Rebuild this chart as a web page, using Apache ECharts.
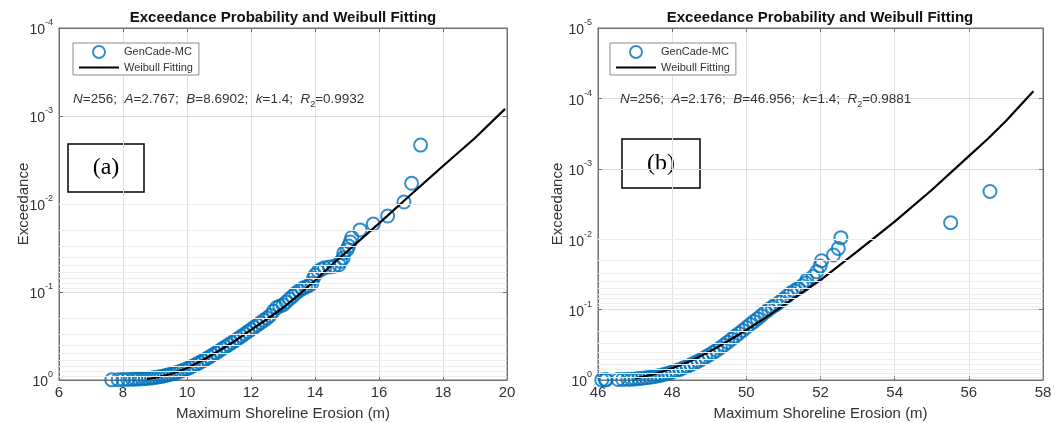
<!DOCTYPE html>
<html><head><meta charset="utf-8">
<script src="https://cdn.jsdelivr.net/npm/echarts@6/dist/echarts.min.js"></script>
<style>html,body{margin:0;padding:0;background:#fff}#c{width:1055px;height:423px}</style>
</head><body><div id="c"></div>
<script>
// ---------- data ----------
const xTicksA = [6, 8, 10, 12, 14, 16, 18, 20];
const xTicksB = [46, 48, 50, 52, 54, 56, 58];
const yMinA = 1e-4, yMinB = 1e-5;

// panel (a) observed exceedance
const obsXA = [7.65,7.85,8.0,8.15,8.3,8.4,8.5,8.6,8.7,8.8,8.9,9.0,9.1,9.2,9.3,9.4,9.5,9.6,9.7,9.8,9.9,10.0,10.1,10.2,10.3,10.4,10.5,10.6,10.7,10.8,10.9,11.0,11.1,11.2,11.3,11.4,11.5,11.6,11.7,11.8,11.9,12.0,12.1,12.2,12.3,12.4,12.5,12.6,12.7,12.8,12.9,13.0,13.1,13.2,13.3,13.4,13.5,13.6,13.7,13.8,13.9,13.95,14.0,14.1,14.2,14.3,14.45,14.6,14.75,14.8,14.88,14.9,15.0,15.05,15.1,15.15,15.41,15.82,16.27,16.78,17.02,17.30];
const obsPA = [0.996,0.992,0.988,0.984,0.980,0.977,0.973,0.969,0.963,0.955,0.946,0.936,0.924,0.911,0.896,0.879,0.86,0.84,0.818,0.795,0.77,0.745,0.718,0.69,0.66,0.632,0.603,0.575,0.547,0.52,0.493,0.467,0.442,0.42,0.398,0.377,0.357,0.337,0.318,0.30,0.283,0.267,0.252,0.237,0.223,0.21,0.198,0.185,0.165,0.15,0.145,0.14,0.13,0.12,0.112,0.103,0.097,0.092,0.088,0.085,0.08,0.07,0.064,0.058,0.055,0.053,0.052,0.051,0.049,0.045,0.041,0.036,0.033,0.030,0.027,0.024,0.0197,0.0169,0.0137,0.0095,0.00582,0.00214];
// panel (a) Weibull fitting
const fitXA = [8.75,9.0,9.5,10,10.5,11,11.5,12,12.5,13,13.5,14,14.5,15,16,17,18,19,19.94];
const fitPA = [0.975,0.942,0.855,0.736,0.593,0.465,0.36,0.27,0.204,0.151,0.107,0.074,0.050,0.0347,0.0166,0.0078,0.0037,0.00178,0.00083];

// panel (b) observed exceedance
const obsXB = [46.1,46.2,46.22,46.54,46.67,46.8,46.9,47.0,47.1,47.2,47.3,47.4,47.5,47.6,47.7,47.8,47.9,48.0,48.1,48.2,48.3,48.4,48.5,48.6,48.7,48.8,48.9,49.0,49.1,49.2,49.3,49.4,49.5,49.6,49.7,49.8,49.9,50.0,50.1,50.2,50.3,50.4,50.5,50.6,50.7,50.8,50.9,51.0,51.1,51.2,51.3,51.4,51.5,51.6,51.63,51.8,51.9,51.99,52.03,52.35,52.48,52.55,55.51,56.57];
const obsPB = [0.996,0.992,0.988,0.984,0.980,0.977,0.972,0.965,0.955,0.944,0.93,0.914,0.896,0.876,0.853,0.828,0.80,0.77,0.74,0.708,0.675,0.642,0.608,0.575,0.54,0.506,0.473,0.44,0.408,0.377,0.347,0.318,0.29,0.264,0.24,0.218,0.198,0.18,0.163,0.148,0.135,0.122,0.11,0.10,0.092,0.085,0.078,0.071,0.064,0.058,0.054,0.05,0.046,0.042,0.038,0.034,0.029,0.024,0.0202,0.0168,0.0135,0.0095,0.00582,0.0021];
// panel (b) Weibull fitting
const fitXB = [47.0,47.5,48,48.5,49,49.5,50,50.5,51,51.5,52,53,54,55,56,56.5,57,57.74];
const fitPB = [0.946,0.832,0.682,0.537,0.398,0.282,0.195,0.132,0.087,0.0575,0.038,0.0148,0.00562,0.0020,0.00066,0.00038,0.000209,0.000079];

const titleText = 'Exceedance Probability and Weibull Fitting';
const xName = 'Maximum Shoreline Erosion (m)';
const yName = 'Exceedance';
const seriesNames = ['GenCade-MC', 'Weibull Fitting'];
const statA = '{i|N}=256;  {i|A}=2.767;  {i|B}=8.6902;  {i|k}=1.4;  {i|R}{s|2}=0.9932';
const statB = '{i|N}=256;  {i|A}=2.176;  {i|B}=46.956;  {i|k}=1.4;  {i|R}{s|2}=0.9881';

// ---------- chart ----------
const FONT = '"Liberation Sans", Arial, sans-serif';
const AX = '#707070', TXT = '#333';
const BLUE = '#0072BD';
const zip = (xs, ys) => xs.map((x, i) => [x, ys[i]]);

function minorValues(minV) {
  const out = [];
  for (let d = Math.round(Math.log10(minV)); d < 0; d++) {
    for (let m = 2; m <= 9; m++) out.push(m * Math.pow(10, d));
  }
  return out;
}

const grids = [
  {left: 59, top: 28, width: 448, height: 352, show: true, borderColor: AX, borderWidth: 1, backgroundColor: '#fff', containLabel: false, outerBoundsMode: 'none'},
  {left: 598, top: 28, width: 445, height: 352, show: true, borderColor: AX, borderWidth: 1, backgroundColor: '#fff', containLabel: false, outerBoundsMode: 'none'}
];

function xAxisMain(gi, ticks) {
  return {
    type: 'value', gridIndex: gi, position: 'bottom',
    min: ticks[0], max: ticks[ticks.length - 1], interval: 2,
    name: xName, nameLocation: 'middle', nameGap: 26, nameMoveOverlap: false,
    nameTextStyle: {fontFamily: FONT, fontSize: 15, color: TXT},
    axisLine: {show: true, onZero: false, lineStyle: {color: AX}},
    axisTick: {show: true, inside: true, length: 4, lineStyle: {color: AX}},
    axisLabel: {fontFamily: FONT, fontSize: 15, color: TXT, margin: 5},
    splitLine: {show: true, lineStyle: {color: '#e0e0e0', width: 1}}
  };
}
function xAxisTop(gi, ticks) {
  return {
    type: 'value', gridIndex: gi, position: 'top',
    min: ticks[0], max: ticks[ticks.length - 1], interval: 2,
    axisLine: {show: true, onZero: false, lineStyle: {color: AX}},
    axisTick: {show: true, inside: true, length: 4, lineStyle: {color: AX}},
    axisLabel: {show: false}, splitLine: {show: false}
  };
}
function yAxisMain(gi, minV, gap) {
  return {
    type: 'log', logBase: 10, gridIndex: gi, position: 'left',
    min: minV, max: 1, inverse: true,
    name: yName, nameLocation: 'middle', nameGap: gap, nameMoveOverlap: false,
    nameTextStyle: {fontFamily: FONT, fontSize: 15, color: TXT},
    axisLine: {show: true, onZero: false, lineStyle: {color: AX}},
    axisTick: {show: true, inside: true, length: 4, lineStyle: {color: AX}},
    axisLabel: {
      margin: 6,
      formatter: v => '{b|10}{s|' + Math.round(Math.log10(v)) + '}',
      rich: {
        b: {fontFamily: FONT, fontSize: 14, color: TXT, lineHeight: 19, verticalAlign: 'bottom'},
        s: {fontFamily: FONT, fontSize: 9, color: TXT, lineHeight: 19, verticalAlign: 'top'}
      }
    },
    splitLine: {show: true, lineStyle: {color: '#dcdcdc', width: 1}}
  };
}
function yAxisRight(gi, minV) {
  return {
    type: 'log', logBase: 10, gridIndex: gi, position: 'right',
    min: minV, max: 1, inverse: true,
    axisLine: {show: true, onZero: false, lineStyle: {color: AX}},
    axisTick: {show: true, inside: true, length: 4, lineStyle: {color: AX}},
    axisLabel: {show: false}, splitLine: {show: false}
  };
}

function panelSeries(xi, yi, obsX, obsP, fitX, fitP, minV) {
  return [
    {
      type: 'line', xAxisIndex: xi, yAxisIndex: yi, data: [], silent: true, z: 1,
      markLine: {
        silent: true, symbol: ['none', 'none'], label: {show: false}, animation: false,
        lineStyle: {color: '#ededed', width: 1, type: 'solid'},
        emphasis: {disabled: true},
        data: minorValues(minV).map(v => ({yAxis: v}))
      }
    },
    {
      type: 'scatter', name: seriesNames[0], xAxisIndex: xi, yAxisIndex: yi, z: 3,
      symbol: 'circle', symbolSize: 13,
      itemStyle: {color: 'rgba(255,255,255,0)', borderColor: BLUE, borderWidth: 2},
      data: zip(obsX, obsP)
    },
    {
      type: 'line', name: seriesNames[1], xAxisIndex: xi, yAxisIndex: yi, z: 4,
      symbol: 'none', showSymbol: false, smooth: false,
      lineStyle: {color: '#000', width: 2.2}, itemStyle: {color: '#000'},
      data: zip(fitX, fitP)
    }
  ];
}

function legendCfg(left) {
  return {
    show: true, orient: 'vertical', left: left, top: 43,
    data: [
      {name: seriesNames[0], itemStyle: {color: 'rgba(255,255,255,0)', borderColor: BLUE, borderWidth: 2}},
      {name: seriesNames[1], itemStyle: {opacity: 0, color: 'rgba(0,0,0,0)', borderWidth: 0}}
    ],
    itemWidth: 40, itemHeight: 12, itemGap: 3,
    padding: [2, 6, 2, 5],
    borderColor: '#8a8a8a', borderWidth: 1, backgroundColor: '#fff',
    textStyle: {fontFamily: FONT, fontSize: 11, color: TXT},
    selectedMode: false
  };
}

function statText(x, txt) {
  return {
    type: 'text', x: x, y: 99, z: 50,
    style: {
      text: txt, textVerticalAlign: 'middle', fill: TXT,
      font: '13.5px ' + FONT,
      rich: {
        i: {fontFamily: FONT, fontSize: 13.5, fontStyle: 'italic', fill: TXT, lineHeight: 20},
        s: {fontFamily: FONT, fontSize: 9, fill: TXT, lineHeight: 20, verticalAlign: 'bottom'}
      }
    }
  };
}
function tagBox(x, y, w, h, label) {
  return {
    type: 'group', z: 60,
    children: [
      {type: 'rect', shape: {x: x, y: y, width: w, height: h}, style: {fill: '#fff', stroke: '#000', lineWidth: 1.5}},
      {type: 'text', x: x + w / 2, y: y + h / 2, style: {text: label, textAlign: 'center', textVerticalAlign: 'middle', font: '24px "Liberation Serif", "Times New Roman", serif', fill: '#000'}}
    ]
  };
}
function titleText1(x) {
  return {type: 'text', x: x, y: 18, z: 50, style: {text: titleText, textAlign: 'center', textVerticalAlign: 'middle', font: 'bold 15px ' + FONT, fill: '#111'}};
}

const chart = echarts.init(document.getElementById('c'), null, {renderer: 'canvas'});
chart.setOption({
  animation: false,
  backgroundColor: '#fff',
  grid: grids,
  xAxis: [xAxisMain(0, xTicksA), xAxisMain(1, xTicksB), xAxisTop(0, xTicksA), xAxisTop(1, xTicksB)],
  yAxis: [yAxisMain(0, yMinA, 28), yAxisMain(1, yMinB, 33), yAxisRight(0, yMinA), yAxisRight(1, yMinB)],
  legend: [legendCfg(73), legendCfg(610)],
  series: [
    ...panelSeries(0, 0, obsXA, obsPA, fitXA, fitPA, yMinA),
    ...panelSeries(1, 1, obsXB, obsPB, fitXB, fitPB, yMinB)
  ],
  graphic: [
    titleText1(283), titleText1(820),
    statText(73, statA), statText(620, statB),
    tagBox(68, 144, 76, 48, '(a)'), tagBox(622, 139, 78, 49, '(b)')
  ]
});
</script></body></html>
